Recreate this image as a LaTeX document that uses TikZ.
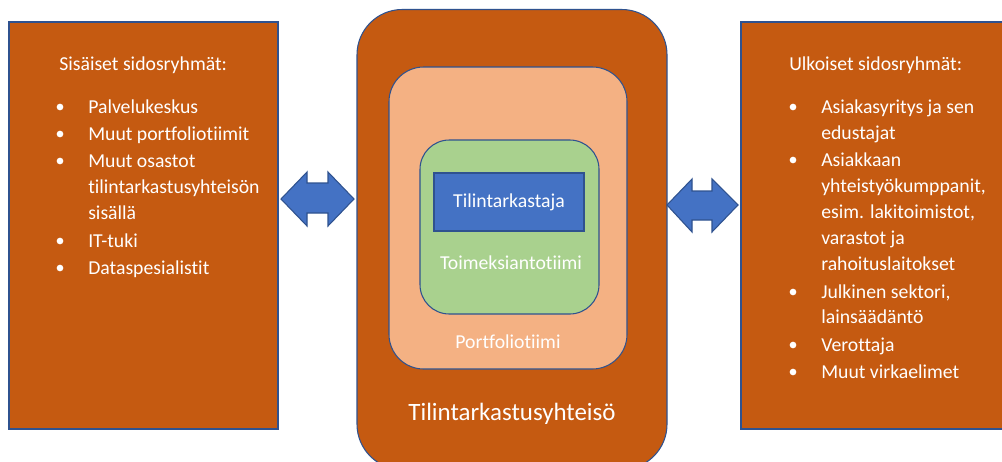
\documentclass[tikz,border=0pt]{standalone}
\usepackage{fontspec}
\setmainfont{Carlito}[Ligatures=NoCommon]
\definecolor{rust}{HTML}{C55A11}
\definecolor{peach}{HTML}{F4B183}
\definecolor{leaf}{HTML}{A9D18E}
\definecolor{royal}{HTML}{4472C4}
\definecolor{edge}{HTML}{2F528F}
\begin{document}
\begin{tikzpicture}[x=0.75pt,y=-0.75pt,
  box/.style={draw=edge, line width=0.8pt, inner sep=0pt},
  txt/.style={text=white, font=\fontsize{14.8}{20}\selectfont, inner sep=0pt, anchor=base west},
  ctxt/.style={text=white, font=\fontsize{14.8}{20}\selectfont, inner sep=0pt},
  dot/.style={circle, fill=white, inner sep=0pt, minimum size=5pt},
  twoway/.style={fill=royal, draw=edge, line width=0.8pt, line join=miter}]
\useasboundingbox (0,0) rectangle (1002,461);
\fill[white] (0,0) rectangle (1002,461);

% side boxes
\node[box, fill=rust, minimum width=201.75pt, minimum height=305.25pt] (inner) at (143.5,225.5) {};
\node[box, fill=rust, minimum width=201.75pt, minimum height=305.25pt] (outer) at (875.5,225.5) {};

% nested organisation boxes
\node[box, fill=rust, rounded corners=34pt, minimum width=232.5pt, minimum height=345pt] (firm) at (512,239.5) {};
\node[box, fill=peach, rounded corners=26pt, minimum width=178.5pt, minimum height=226.5pt] (portfolio) at (508,218) {};
\node[box, fill=leaf, rounded corners=22pt, minimum width=134.25pt, minimum height=130.5pt] (team) at (509.5,227) {};
\node[box, fill=royal, minimum width=112.5pt, minimum height=43.5pt, ctxt] (auditor) at (509,202) {Tilintarkastaja};

\node[ctxt] (teamlbl) at (511,263) {Toimeksiantotiimi};
\node[ctxt] (portlbl) at (508,342) {Portfoliotiimi};
\node[ctxt, font=\fontsize{18.7}{22}\selectfont] (firmlbl) at (512,414) {Tilintarkastusyhteisö};

% two-way arrows
\draw[twoway] (281,199) -- (307,172) -- (307,183) -- (328,183) -- (328,172) -- (354,199)
  -- (328,226) -- (328,213) -- (307,213) -- (307,226) -- cycle;
\draw[twoway] (667,205) -- (692,179) -- (692,191) -- (712,191) -- (712,179) -- (738,205)
  -- (712,232) -- (712,220) -- (692,220) -- (692,232) -- cycle;

% internal stakeholders
\node[txt] (ltitle) at (59,70) {Sisäiset sidosryhmät:};
\foreach \y [count=\i] in {107,134,161,241,268}
  \node[dot] (lb\i) at (60,\y) {};
\foreach \t/\y [count=\i] in {Palvelukeskus/113, Muut portfoliotiimit/140, Muut osastot/167,
    tilintarkastusyhteisön/193, sisällä/219, IT-tuki/247, Dataspesialistit/274}
  \node[txt] (lt\i) at (88,\y) {\t};

% external stakeholders
\node[txt] (rtitle) at (789,70) {Ulkoiset sidosryhmät:};
\foreach \y [count=\i] in {107,160,292,345,372}
  \node[dot] (rb\i) at (793,\y) {};
\foreach \t/\y [count=\i] in {Asiakasyritys ja sen/113, edustajat/139, Asiakkaan/166,
    {yhteistyökumppanit,}/192, {esim. lakitoimistot,}/218, varastot ja/244,
    rahoituslaitokset/270, {Julkinen sektori,}/298, lainsäädäntö/323, Verottaja/351,
    Muut virkaelimet/378}
  \node[txt] (rt\i) at (821,\y) {\t};
\end{tikzpicture}
\end{document}
